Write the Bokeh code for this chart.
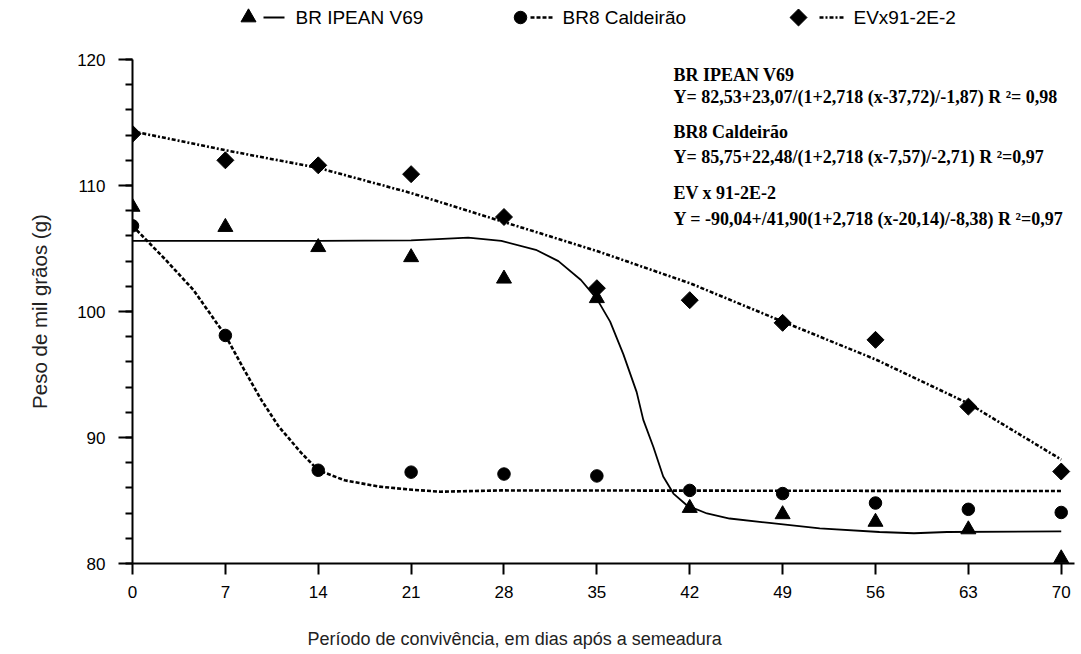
import math
from bokeh.plotting import figure
from bokeh.layouts import column
from bokeh.models import Range1d, FixedTicker, Label, Title
from bokeh.embed import file_html
from bokeh.resources import INLINE
from bokeh.core.properties import value

# ---- data ----
days = [0, 7, 14, 21, 28, 35, 42, 49, 56, 63, 70]
br_ipean = [108.3, 106.7, 105.1, 104.3, 102.6, 101.05, 84.4, 83.9, 83.3, 82.7, 80.4]
br8 = [106.8, 98.1, 87.4, 87.25, 87.1, 86.95, 85.8, 85.55, 84.8, 84.3, 84.05]
evx = [114.1, 112.0, 111.6, 110.9, 107.5, 101.85, 100.9, 99.1, 97.75, 92.45, 87.3]

# fitted curves as drawn in the reference
fit_ipean_x = [0, 7, 14, 21, 23, 25.3, 27.8, 30.4, 32.1, 33.8, 35, 36, 37, 38, 38.5,
               39.26, 40.0, 40.77, 41.8, 43.3, 45, 48, 51.8, 56.3, 58.9, 61.4, 70]
fit_ipean_y = [105.6, 105.6, 105.6, 105.65, 105.75, 105.87, 105.6, 104.9, 104.0, 102.5,
               101.0, 99.2, 96.6, 93.6, 91.4, 89.25, 86.9, 85.55, 84.6, 83.97, 83.57,
               83.22, 82.78, 82.5, 82.4, 82.5, 82.55]
fit_br8_x = [0, 2.5, 4.6, 7, 8.4, 9.7, 11.0, 12.7, 14, 16, 18.6, 21.1, 23.2, 27.8, 70]
fit_br8_y = [106.8, 104.1, 101.7, 98.1, 95.4, 93.0, 90.9, 88.8, 87.4, 86.6, 86.1,
             85.85, 85.7, 85.8, 85.75]
fit_ev_x = [0, 7, 14, 21, 28, 35, 42, 49, 56, 63, 70]
fit_ev_y = [114.3, 112.8, 111.4, 109.4, 107.1, 104.8, 102.25, 99.2, 96.2, 92.7, 88.25]

series_names = ["BR IPEAN V69", "BR8 Caldeirão", "EVx91-2E-2"]
x_ticks = [0, 7, 14, 21, 28, 35, 42, 49, 56, 63, 70]
y_ticks = [80, 90, 100, 110, 120]
x_title = "Período de convivência, em dias após a semeadura"
y_title = "Peso de mil grãos (g)"

equations = [
    "BR IPEAN V69",
    "Y= 82,53+23,07/(1+2,718 (x-37,72)/-1,87) R ²= 0,98",
    "BR8 Caldeirão",
    "Y= 85,75+22,48/(1+2,718 (x-7,57)/-2,71) R ²=0,97",
    "EV x 91-2E-2",
    "Y = -90,04+/41,90(1+2,718 (x-20,14)/-8,38) R ²=0,97",
]

SANS = "Liberation Sans"
SERIF = "Liberation Serif"
DASH_BR8 = "4 2"
DASH_EV = "4 2 2 2"

# ---- main figure ----
p = figure(frame_width=942, frame_height=504, x_range=Range1d(0, 71), y_range=Range1d(80, 120),
           output_backend="svg", toolbar_location=None,
           min_border_left=132, min_border_right=7, min_border_top=19, min_border_bottom=91)
p.outline_line_color = None
p.xgrid.grid_line_color = None
p.ygrid.grid_line_color = None
p.background_fill_color = "white"
p.border_fill_color = "white"

p.line(fit_ipean_x, fit_ipean_y, line_color="black", line_width=1.8)
p.line(fit_br8_x, fit_br8_y, line_color="black", line_width=2.6, line_dash=DASH_BR8)
p.line(fit_ev_x, fit_ev_y, line_color="black", line_width=2.6, line_dash=DASH_EV)

p.scatter(days, br_ipean, marker="triangle", size=15, color="black")
p.scatter(days, br8, marker="circle", size=12.5, color="black")
p.scatter(days, evx, marker="square", angle=math.pi / 4, size=12, color="black")

xa = p.xaxis[0]
xa.ticker = FixedTicker(ticks=x_ticks)
xa.major_label_text_font = SANS
xa.major_label_text_font_size = "17px"
xa.major_label_text_color = "black"
xa.major_label_standoff = 11
xa.major_tick_out = 11
xa.major_tick_in = 0
xa.minor_tick_out = 0
xa.minor_tick_in = 0
xa.axis_line_width = 2
xa.major_tick_line_width = 2
xa.axis_line_color = "black"

ya = p.yaxis[0]
ya.ticker = FixedTicker(ticks=y_ticks, minor_ticks=list(range(80, 121, 2)))
ya.major_label_text_font = SANS
ya.major_label_text_font_size = "17px"
ya.major_label_text_color = "black"
ya.major_label_standoff = 13
ya.major_tick_out = 14
ya.major_tick_in = 0
ya.minor_tick_out = 7
ya.minor_tick_in = 0
ya.axis_line_width = 2
ya.major_tick_line_width = 2
ya.minor_tick_line_width = 2
ya.axis_line_color = "black"

# axis titles as side titles (allow an offset along the side)
p.add_layout(Title(text=x_title, align="left", offset=175, standoff=53,
                   text_font=SANS, text_font_size="18px", text_font_style="normal",
                   text_color="#222222"), "below")
p.add_layout(Title(text=y_title, align="center", offset=14, standoff=48,
                   text_font=SANS, text_font_size="20.5px", text_font_style="normal",
                   text_color="#222222"), "left")

eq_x = 40.77
eq_y = [118.75, 117.03, 114.25, 112.27, 109.37, 107.38]
for txt, yy in zip(equations, eq_y):
    p.add_layout(Label(x=eq_x, y=yy, text=txt, text_font=SERIF, text_font_size="18px",
                       text_font_style="bold", text_color="black", text_baseline="alphabetic"))

# ---- legend strip (x in page pixels, frame aligned with the main frame) ----
lg = figure(frame_width=942, frame_height=40, x_range=Range1d(132, 1074), y_range=Range1d(0, 40),
            output_backend="svg", toolbar_location=None,
            min_border_left=132, min_border_right=7, min_border_top=0, min_border_bottom=0)
lg.axis.visible = False
lg.xgrid.visible = False
lg.ygrid.visible = False
lg.outline_line_color = None

ly = 23
marker_x = [248, 520, 798]
seg_x0 = [263, 530, 819]
seg_x1 = [284, 554, 845]
text_x = [295, 562, 853]
lg.scatter([marker_x[0]], [ly], marker="triangle", size=15, color="black")
lg.scatter([marker_x[1]], [ly], marker="circle", size=12.5, color="black")
lg.scatter([marker_x[2]], [ly], marker="square", angle=math.pi / 4, size=12, color="black")
lg.segment(x0=[seg_x0[0]], y0=[ly], x1=[seg_x1[0]], y1=[ly], line_color="black", line_width=1.8)
lg.segment(x0=[seg_x0[1]], y0=[ly], x1=[seg_x1[1]], y1=[ly], line_color="black", line_width=2.6,
           line_dash=DASH_BR8)
lg.segment(x0=[seg_x0[2]], y0=[ly], x1=[seg_x1[2]], y1=[ly], line_color="black", line_width=2.6,
           line_dash=DASH_EV)
lg.text(x=text_x, y=[ly] * 3, text=series_names, text_font=value(SANS), text_font_size="19px",
        text_baseline="middle", text_align="left", text_color="black")

layout = column(lg, p, spacing=0)
open("out.html", "w").write(file_html(layout, INLINE))
